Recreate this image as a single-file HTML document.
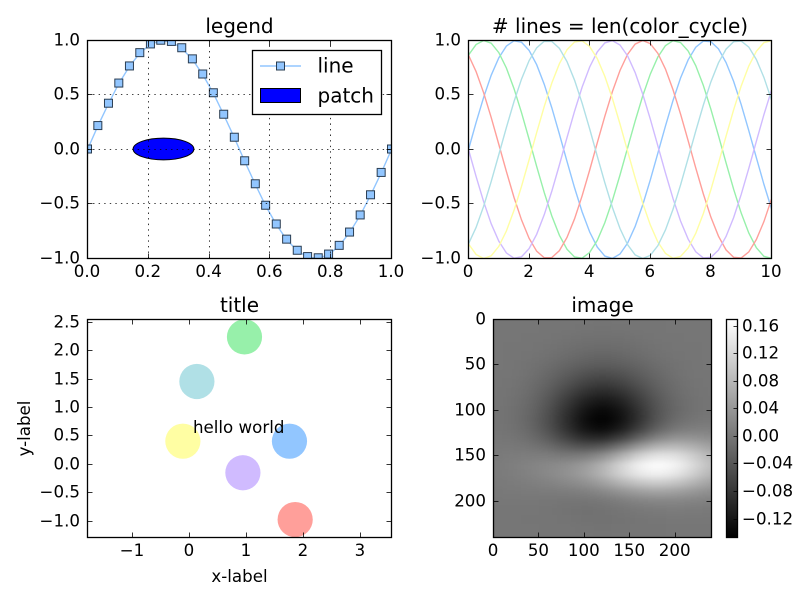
<!DOCTYPE html>
<html lang="en">
<head>
<meta charset="utf-8">
<title>Matplotlib style sheet sample</title>
<style>
html,body{margin:0;padding:0;background:#fff;}
svg{display:block;}
text{font-family:"DejaVu Sans","Liberation Sans",sans-serif;fill:#000;}
</style>
</head>
<body>
<svg id="fig" xmlns="http://www.w3.org/2000/svg" width="800" height="600" viewBox="0 0 800 600">
  <defs>
    <clipPath id="clip-a"><rect x="87.5" y="40" width="304" height="218"/></clipPath>
    <clipPath id="clip-b"><rect x="468.5" y="40" width="303" height="218"/></clipPath>
    <clipPath id="clip-c"><rect x="87.5" y="319.5" width="304" height="218"/></clipPath>
    <clipPath id="clip-d"><rect x="493.5" y="319.5" width="218" height="218"/></clipPath>
    <filter id="smooth" filterUnits="userSpaceOnUse" x="440" y="270" width="330" height="320" color-interpolation-filters="sRGB">
      <feGaussianBlur stdDeviation="8 3.5"/>
    </filter>
    <linearGradient id="cbar-gradient" x1="0" y1="0" x2="0" y2="1">
      <stop offset="0" stop-color="#fff"/>
      <stop offset="1" stop-color="#000"/>
    </linearGradient>
  </defs>
  <rect x="0" y="0" width="800" height="600" fill="#fff"/>
  <g id="panel-legend"></g>
  <g id="panel-lines"></g>
  <g id="panel-scatter"></g>
  <g id="panel-image"></g>
</svg>
<script>
// ---- Panel 1: sine with markers
const sineX = [0,.034,.069,.103,.138,.172,.207,.241,.276,.31,.345,.379,.414,.448,.483,.517,.552,.586,.621,.655,.69,.724,.759,.793,.828,.862,.897,.931,.966,1];
const sineY = [0,.215,.42,.605,.762,.884,.964,.998,.987,.929,.827,.688,.516,.319,.108,-.108,-.319,-.516,-.688,-.827,-.929,-.987,-.998,-.964,-.884,-.762,-.605,-.42,-.215,0];
const legendXTicks = [0,.2,.4,.6,.8,1];
const legendYTicks = [-1,-.5,0,.5,1];

// ---- Panel 2: six phase-shifted lines
const cycleX = [0,.25,.5,.75,1,1.25,1.5,1.75,2,2.25,2.5,2.75,3,3.25,3.5,3.75,4,4.25,4.5,4.75,5,5.25,5.5,5.75,6,6.25,6.5,6.75,7,7.25,7.5,7.75,8,8.25,8.5,8.75,9,9.25,9.5,9.75,10];
const blueLine = [0,.247,.479,.682,.841,.949,.997,.984,.909,.778,.598,.382,.141,-.108,-.351,-.572,-.757,-.895,-.978,-.999,-.959,-.859,-.706,-.508,-.279,-.033,.215,.45,.657,.823,.938,.995,.989,.923,.798,.625,.412,.174,-.075,-.32,-.544];
const greenLine = [.866,.963,1,.975,.889,.748,.56,.338,.094,-.155,-.395,-.61,-.787,-.915,-.986,-.997,-.944,-.834,-.671,-.467,-.234,.014,.261,.492,.692,.849,.953,.998,.981,.903,.769,.588,.369,.127,-.122,-.364,-.583,-.766,-.901,-.98,-.999];
const redLine = [.866,.715,.52,.293,.047,-.201,-.438,-.646,-.815,-.933,-.993,-.991,-.928,-.807,-.636,-.425,-.188,.061,.306,.532,.725,.873,.967,1,.971,.882,.738,.548,.324,.08,-.169,-.407,-.621,-.795,-.921,-.989,-.995,-.94,-.826,-.661,-.455];
const purpleLine = [0,-.247,-.479,-.682,-.841,-.949,-.997,-.984,-.909,-.778,-.598,-.382,-.141,.108,.351,.572,.757,.895,.978,.999,.959,.859,.706,.508,.279,.033,-.215,-.45,-.657,-.823,-.938,-.995,-.989,-.923,-.798,-.625,-.412,-.174,.075,.32,.544];
const yellowLine = [-.866,-.963,-1,-.975,-.889,-.748,-.56,-.338,-.094,.155,.395,.61,.787,.915,.986,.997,.944,.834,.671,.467,.234,-.014,-.261,-.492,-.692,-.849,-.953,-.998,-.981,-.903,-.769,-.588,-.369,-.127,.122,.364,.583,.766,.901,.98,.999];
const tealLine = [-.866,-.715,-.52,-.293,-.047,.201,.438,.646,.815,.933,.993,.991,.928,.807,.636,.425,.188,-.061,-.306,-.532,-.725,-.873,-.967,-1,-.971,-.882,-.738,-.548,-.324,-.08,.169,.407,.621,.795,.921,.989,.995,.94,.826,.661,.455];
const cycleXTicks = [0,2,4,6,8,10];
const cycleYTicks = [-1,-.5,0,.5,1];

// ---- Panel 3: scatter
const scatterX = [1.754,.965,1.854,.937,-.116,.13];
const scatterY = [.409,2.246,-.972,-.147,.409,1.461];
const scatterXTicks = [-1,0,1,2,3];
const scatterYTicks = [-1,-.5,0,.5,1,1.5,2,2.5];

// ---- Panel 4: image values in thousandths; rows every 10 image px, columns every 20 image px
const imageValues = [
[0,0,0,-1,-1,-2,-2,-2,-1,-1,0,0,0],
[0,0,0,-1,-2,-3,-4,-3,-2,-1,0,0,0],
[0,0,-1,-2,-4,-6,-7,-6,-4,-2,-1,0,0],
[0,-1,-2,-4,-8,-11,-13,-11,-8,-4,-2,-1,0],
[0,-1,-3,-7,-13,-19,-22,-19,-13,-7,-3,-1,0],
[0,-2,-5,-11,-21,-30,-34,-30,-21,-11,-5,-2,0],
[-1,-2,-7,-17,-31,-46,-52,-46,-31,-17,-7,-2,-1],
[-1,-3,-10,-24,-44,-64,-73,-64,-44,-24,-10,-3,-1],
[-1,-4,-13,-31,-59,-85,-97,-85,-59,-31,-13,-4,-1],
[-1,-5,-16,-39,-73,-106,-120,-106,-72,-39,-16,-5,-1],
[-2,-6,-19,-45,-84,-122,-139,-122,-83,-43,-17,-5,-1],
[-1,-6,-20,-48,-90,-130,-147,-127,-84,-41,-13,-1,2],
[-1,-5,-18,-45,-85,-123,-136,-113,-68,-25,1,10,10],
[0,-2,-12,-33,-65,-94,-99,-71,-25,15,34,35,27],
[2,2,-2,-13,-32,-46,-37,-2,44,76,84,72,51],
[4,7,9,8,4,8,30,71,114,138,134,108,76],
[5,10,16,22,29,44,73,116,154,169,157,124,86],
[5,9,15,23,33,49,77,113,143,154,140,110,76],
[3,6,10,15,22,32,51,76,97,105,96,76,52],
[2,3,5,6,7,11,21,35,48,54,51,40,28],
[1,1,1,0,-1,-2,1,8,16,20,20,16,12],
[0,0,0,-2,-4,-6,-5,-2,2,5,6,5,4],
[0,0,-1,-1,-3,-5,-5,-4,-2,0,1,1,1],
[0,0,0,-1,-2,-3,-4,-3,-2,-1,0,0,0],
[0,0,0,-1,-1,-2,-2,-2,-1,-1,0,0,0]
];
const imageXTicks = [0,50,100,150,200];
const imageYTicks = [0,50,100,150,200];
const colorbarTicks = [-.12,-.08,-.04,0,.04,.08,.12,.16];
const colorbarMin = -.1466;
const colorbarMax = .1697;

// ---- Styles
const cycleColors = ['#92C6FF','#97F0AA','#FF9F9A','#D0BBFF','#FFFEA3','#B0E0E6'];
const TICK_FONT = 16.67;
const SVGNS = 'http://www.w3.org/2000/svg';

function el(parent, tag, attrs) {
  const node = document.createElementNS(SVGNS, tag);
  for (const k in attrs) node.setAttribute(k, attrs[k]);
  parent.appendChild(node);
  return node;
}
function linearScale(d0, d1, r0, r1) {
  return v => r0 + (v - d0) * (r1 - r0) / (d1 - d0);
}
function snap(p) {
  return Math.round(p - .6) + .5;
}
function fmt(v, digits) {
  const s = Math.abs(v).toFixed(digits);
  return (v < 0 ? '\u2212' : '') + s;
}
function addText(parent, x, y, str, size, anchor, name) {
  const t = el(parent, 'text', {x: x, y: y, 'font-size': size, 'text-anchor': anchor});
  t.textContent = str;
  
  
  return t;
}
function addTick(parent, x1, y1, x2, y2) {
  const l = el(parent, 'line', {x1: x1, y1: y1, x2: x2, y2: y2, stroke: '#000', 'stroke-width': .8});
  
  
}
function drawFrame(parent, box) {
  const r = el(parent, 'rect', {x: box.l, y: box.t, width: box.r - box.l, height: box.b - box.t, fill: 'none', stroke: '#000', 'stroke-width': 1.3});
  
  
}
function drawXAxis(parent, box, sx, ticks, digits) {
  const TL = 5;
  ticks.forEach(v => {
    const px = snap(sx(v));
    addTick(parent, px, box.b, px, box.b - TL);
    addTick(parent, px, box.t, px, box.t + TL);
    addText(parent, sx(v) - .5, box.b + 18.5, fmt(v, digits), TICK_FONT, 'middle', 'x-tick-label');
  });
}
function drawYAxis(parent, box, sy, ticks, digits) {
  const TL = 5;
  ticks.forEach(v => {
    const py = snap(sy(v));
    addTick(parent, box.l, py, box.l + TL, py);
    addTick(parent, box.r, py, box.r - TL, py);
    addText(parent, box.l - 7.5, py + 5, fmt(v, digits), TICK_FONT, 'end', 'y-tick-label');
  });
}
function addTitle(parent, box, str) {
  addText(parent, (box.l + box.r) / 2, box.t - 7.5, str, 20, 'middle', 'panel-title');
}

// ---- Panel 1
(function () {
  const g = document.getElementById('panel-legend');
  const box = {l: 87.5, r: 391.5, t: 40.5, b: 258.5};
  const sx = linearScale(0, 1, box.l, box.r);
  const sy = linearScale(-1, 1, box.b, box.t);

  const ellipse = el(g, 'ellipse', {cx: sx(.25), cy: sy(0) - .5, rx: sx(.1) - sx(0), ry: sy(0) - sy(.1), fill: '#0000ff', stroke: '#000', 'stroke-width': 1});
  
  

  const content = el(g, 'g', {'clip-path': 'url(#clip-a)'});
  const line = el(content, 'polyline', {points: sineX.map((x, i) => sx(x) + ',' + sy(sineY[i])).join(' '), fill: 'none', stroke: cycleColors[0], 'stroke-width': 1.4});
  
  
  sineX.forEach((x, i) => {
    const m = el(content, 'rect', {x: sx(x) - 4, y: sy(sineY[i]) - 4.5, width: 8, height: 8, fill: cycleColors[0], stroke: '#2a3d52', 'stroke-width': 1});
    
    
  });

  legendXTicks.forEach(v => {
    if (v === 0 || v === 1) return;
    const px = snap(sx(v));
    const gl = el(g, 'line', {x1: px, y1: box.b, x2: px, y2: box.t, stroke: '#000', 'stroke-width': .8, 'stroke-dasharray': '1.4 4.17'});
    
    
  });
  legendYTicks.forEach(v => {
    if (v === -1 || v === 1) return;
    const py = snap(sy(v));
    const gl = el(g, 'line', {x1: box.l, y1: py, x2: box.r, y2: py, stroke: '#000', 'stroke-width': .8, 'stroke-dasharray': '1.4 4.17'});
    
    
  });

  drawXAxis(g, box, sx, legendXTicks, 1);
  drawYAxis(g, box, sy, legendYTicks, 1);
  drawFrame(g, box);
  addTitle(g, box, 'legend');

  const legend = el(g, 'g', {});
  
  
  const lb = el(legend, 'rect', {x: 252.5, y: 50.5, width: 129, height: 64, fill: '#fff', stroke: '#000', 'stroke-width': 1.3});
  
  
  const ll = el(legend, 'line', {x1: 260, y1: 66, x2: 301, y2: 66, stroke: cycleColors[0], 'stroke-width': 1.4});
  
  
  const lm = el(legend, 'rect', {x: 276.5, y: 62, width: 8, height: 8, fill: cycleColors[0], stroke: '#2a3d52', 'stroke-width': 1});
  
  
  const lp = el(legend, 'rect', {x: 260.5, y: 88.5, width: 40, height: 14, fill: '#0000ff', stroke: '#000', 'stroke-width': 1});
  
  
  addText(legend, 317.5, 72.5, 'line', 20, 'start', 'legend-entry-line');
  addText(legend, 317.5, 102.5, 'patch', 20, 'start', 'legend-entry-patch');
})();

// ---- Panel 2
(function () {
  const g = document.getElementById('panel-lines');
  const box = {l: 468.5, r: 771.5, t: 40.5, b: 258.5};
  const sx = linearScale(0, 10, box.l, box.r);
  const sy = linearScale(-1, 1, box.b, box.t);
  const content = el(g, 'g', {'clip-path': 'url(#clip-b)'});
  [blueLine, greenLine, redLine, purpleLine, yellowLine, tealLine].forEach((series, s) => {
    const pl = el(content, 'polyline', {points: cycleX.map((x, i) => sx(x) + ',' + sy(series[i])).join(' '), fill: 'none', stroke: cycleColors[s], 'stroke-width': 1.4});
    
    
  });
  drawXAxis(g, box, sx, cycleXTicks, 0);
  drawYAxis(g, box, sy, cycleYTicks, 1);
  drawFrame(g, box);
  addTitle(g, box, '# lines = len(color_cycle)');
})();

// ---- Panel 3
(function () {
  const g = document.getElementById('panel-scatter');
  const box = {l: 87.5, r: 391.5, t: 319.5, b: 537.5};
  const sx = linearScale(-1.789, 3.544, box.l, box.r);
  const sy = linearScale(-1.288, 2.553, box.b, box.t);
  const content = el(g, 'g', {'clip-path': 'url(#clip-c)'});
  scatterX.forEach((x, i) => {
    const c = el(content, 'circle', {cx: sx(x), cy: sy(scatterY[i]), r: 17.6, fill: cycleColors[i]});
    
    
  });
  drawXAxis(g, box, sx, scatterXTicks, 0);
  drawYAxis(g, box, sy, scatterYTicks, 1);
  drawFrame(g, box);
  addTitle(g, box, 'title');
  addText(g, 193, 433, 'hello world', TICK_FONT, 'start', 'hello-world-annotation');
  addText(g, 239.5, 582, 'x-label', TICK_FONT, 'middle', 'x-axis-title');
  const yl = addText(g, 0, 0, 'y-label', TICK_FONT, 'middle', 'y-axis-title');
  yl.setAttribute('transform', 'translate(30 428.5) rotate(-90)');
})();

// ---- Panel 4
(function () {
  const g = document.getElementById('panel-image');
  const box = {l: 493.5, r: 711.5, t: 319.5, b: 537.5};
  const sx = linearScale(0, 240, box.l, box.r);
  const sy = linearScale(0, 240, box.t, box.b);
  const clip = el(g, 'g', {'clip-path': 'url(#clip-d)'});
  const cells = el(clip, 'g', {filter: 'url(#smooth)', 'shape-rendering': 'crispEdges'});
  
  
  const colour = v => {
    const t = Math.max(0, Math.min(1, (v / 1000 - colorbarMin) / (colorbarMax - colorbarMin)));
    const k = Math.round(t * 255);
    return 'rgb(' + k + ',' + k + ',' + k + ')';
  };
  imageValues.forEach((row, r) => {
    row.forEach((v, c) => {
      let x0 = sx(c * 20 - 10), x1 = sx(c * 20 + 10), y0 = sy(r * 10 - 5), y1 = sy(r * 10 + 5);
      if (c === 0) x0 -= 30;
      if (c === row.length - 1) x1 += 30;
      if (r === 0) y0 -= 30;
      if (r === imageValues.length - 1) y1 += 30;
      const cell = el(cells, 'rect', {x: x0, y: y0, width: x1 - x0 + .6, height: y1 - y0 + .6, fill: colour(v)});
      
      
    });
  });
  drawXAxis(g, box, sx, imageXTicks, 0);
  drawYAxis(g, box, sy, imageYTicks, 0);
  drawFrame(g, box);
  addTitle(g, box, 'image');

  const cb = {l: 726.5, r: 737.5, t: 319.5, b: 537.5};
  const sc = linearScale(colorbarMin, colorbarMax, cb.b, cb.t);
  const bar = el(g, 'rect', {x: cb.l, y: cb.t, width: cb.r - cb.l, height: cb.b - cb.t, fill: 'url(#cbar-gradient)'});
  
  
  colorbarTicks.forEach(v => {
    const py = snap(sc(v));
    addTick(g, cb.r, py, cb.r - 4, py);
    addText(g, cb.r + 4.5, py + 5, fmt(v, 2), TICK_FONT, 'start', 'colorbar-tick-label');
  });
  drawFrame(g, cb);
})();
</script>
</body>
</html>
